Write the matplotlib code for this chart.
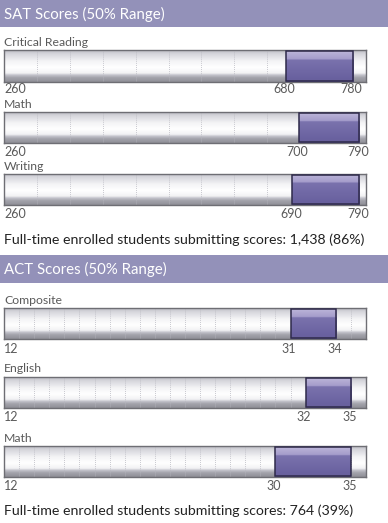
import numpy as np
import matplotlib
matplotlib.use("Agg")
import matplotlib.pyplot as plt
from matplotlib.colors import LinearSegmentedColormap
from matplotlib.patches import Rectangle

plt.rcParams['font.family'] = ['Lato', 'DejaVu Sans']

# ---- data ----
sat_title = "SAT Scores (50% Range)"
sat_subjects = ["Critical Reading", "Math", "Writing"]
sat_low = [680, 700, 690]
sat_high = [780, 790, 790]
sat_min = 260
sat_max = 800
sat_note = "Full-time enrolled students submitting scores: 1,438 (86%)"

act_title = "ACT Scores (50% Range)"
act_subjects = ["Composite", "English", "Math"]
act_low = [31, 32, 30]
act_high = [34, 35, 35]
act_min = 12
act_max = 36
act_note = "Full-time enrolled students submitting scores: 764 (39%)"

W, H = 388, 523
fig = plt.figure(figsize=(W / 100, H / 100), dpi=100)
fig.patch.set_facecolor("white")

HEADER = "#9391b9"
LABEL = "#5a5a5a"

# colour stops given from top (0) to bottom (1)
bg_cmap = LinearSegmentedColormap.from_list("bg", [
    (0.0, "#bdbdc4"), (0.12, "#d6d6dc"), (0.35, "#f4f4f6"), (0.55, "#ffffff"),
    (0.72, "#f2f2f4"), (0.78, "#c4c4cc"), (0.86, "#a4a4ac"), (1.0, "#8e8e96")])
pu_cmap = LinearSegmentedColormap.from_list("pu", [
    (0.0, "#cbc4e2"), (0.08, "#b7b0d6"), (0.28, "#a59dcb"), (0.31, "#7a72ad"),
    (0.6, "#7169a6"), (1.0, "#665e9c")])

# row 0 is drawn at the bottom (origin='lower'), so bottom row = value 1
GRAD = np.linspace(1, 0, 256).reshape(-1, 1)


def fy(y):
    return 1 - y / H


def header(y0, y1, text):
    fig.patches.append(Rectangle((0, fy(y1)), 1, (y1 - y0) / H,
                                 transform=fig.transFigure, facecolor=HEADER,
                                 edgecolor="none", zorder=0))
    fig.text(4 / W, fy((y0 + y1) / 2 + 0.5), text, color="white", fontsize=10.8,
             va="center", ha="left")


def bar(y0, y1, lo, hi, vmin, vmax, ndiv, label, ly, ty):
    ax = fig.add_axes([4 / W, fy(y1), 362 / W, (y1 - y0) / H])
    ax.imshow(GRAD, aspect="auto", cmap=bg_cmap, vmin=0, vmax=1,
              extent=(vmin, vmax, 0, 1), origin="lower", zorder=0)
    for k in range(1, ndiv):
        xv = vmin + (vmax - vmin) * k / ndiv
        ax.axvline(xv, color="#b8b8c0", lw=0.6, ls=(0, (1, 1.5)), zorder=1)
    ax.imshow(GRAD, aspect="auto", cmap=pu_cmap, vmin=0, vmax=1,
              extent=(lo, hi, 0, 1), origin="lower", zorder=2)
    ax.add_patch(Rectangle((lo, 0.02), hi - lo, 0.96, facecolor="none",
                           edgecolor="#2e2a4a", lw=1.1, zorder=3))
    ax.set_xlim(vmin, vmax)
    ax.set_ylim(0, 1)
    ax.set_xticks([])
    ax.set_yticks([])
    for s in ax.spines.values():
        s.set_color("#6e6e74")
        s.set_linewidth(1.0)
    fig.text(4 / W, fy(ly), label, color=LABEL, fontsize=8.8, va="center", ha="left")
    fig.text(4 / W, fy(ty), str(vmin), color=LABEL, fontsize=9, va="center", ha="left")
    for v in (lo, hi):
        xpix = 4 + 362 * (v - vmin) / (vmax - vmin) - 1.5
        fig.text(xpix / W, fy(ty), str(v), color=LABEL, fontsize=9,
                 va="center", ha="center")


header(0, 27, sat_title)
sat_y = [(50, 82, 43, 89), (112, 143, 104, 152), (174, 205, 167, 214)]
for i, (y0, y1, ly, ty) in enumerate(sat_y):
    bar(y0, y1, sat_low[i], sat_high[i], sat_min, sat_max, 11,
        sat_subjects[i], ly, ty)
fig.text(4 / W, fy(239.5), sat_note, color="#222222", fontsize=10.2, va="center", ha="left")

header(255, 283, act_title)
act_y = [(308, 339, 300, 349), (377, 408, 368, 417), (446, 477, 438, 486)]
for i, (y0, y1, ly, ty) in enumerate(act_y):
    bar(y0, y1, act_low[i], act_high[i], act_min, act_max, 24,
        act_subjects[i], ly, ty)
fig.text(4 / W, fy(511), act_note, color="#222222", fontsize=10.2, va="center", ha="left")

fig.savefig("out.png", dpi=100, facecolor="white")
